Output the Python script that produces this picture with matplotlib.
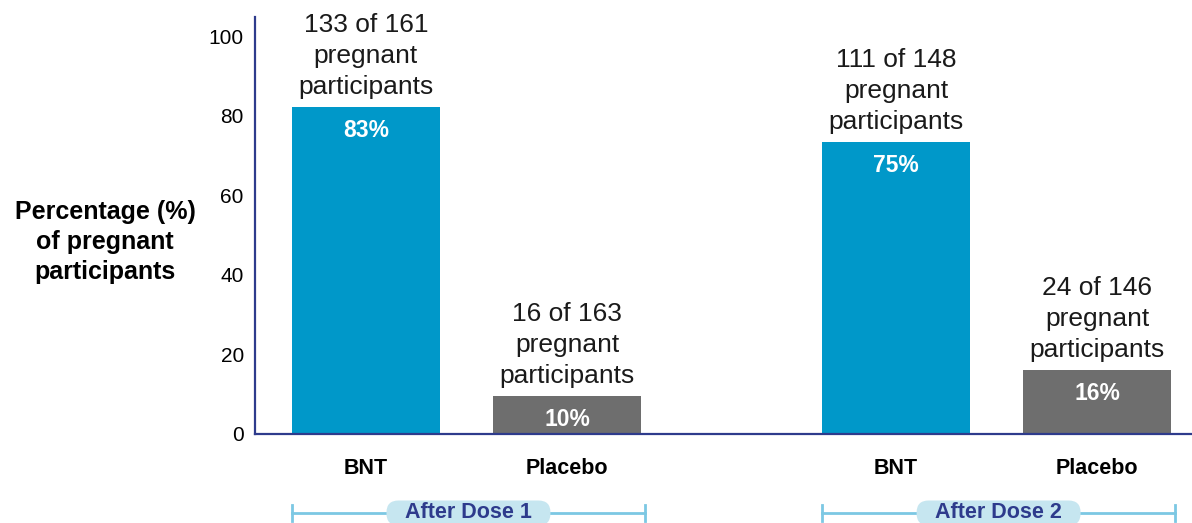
import matplotlib.pyplot as plt
from matplotlib.patches import FancyBboxPatch
from matplotlib.transforms import blended_transform_factory

plt.rcParams['font.family'] = ['Liberation Sans', 'DejaVu Sans']

# data
groups = ["After Dose 1", "After Dose 2"]
arms = ["BNT", "Placebo", "BNT", "Placebo"]
percent = [83, 10, 75, 16]
bar_height = [82.2, 9.6, 73.4, 16.1]
counts = ["133 of 161", "16 of 163", "111 of 148", "24 of 146"]
positions = [0, 1, 2.637, 3.637]
colors = ["#0098c9", "#6e6e6e", "#0098c9", "#6e6e6e"]

navy = "#2e3b8c"

fig = plt.figure(figsize=(11.92, 5.23), dpi=100)
ax = fig.add_axes([0.2139, 0.1702, 0.7861, 0.7973])

width = 0.736
bars = ax.bar(positions, bar_height, width=width, color=colors)

ax.set_xlim(-0.552, 4.109)
ax.set_ylim(0, 104.8)
ax.set_yticks([0, 20, 40, 60, 80, 100])
ax.set_xticks(positions)
ax.set_xticklabels(arms, fontsize=15.5, fontweight='bold')
ax.tick_params(axis='both', length=0)
ax.tick_params(axis='y', labelsize=15, pad=8)
ax.tick_params(axis='x', pad=17)

for side in ['top', 'right']:
    ax.spines[side].set_visible(False)
for side in ['left', 'bottom']:
    ax.spines[side].set_color(navy)
    ax.spines[side].set_linewidth(1.6)

ax.set_ylabel("Percentage (%)\nof pregnant\nparticipants", fontsize=18,
              fontweight='bold', rotation=0, ha='center', va='center',
              multialignment='center', linespacing=1.32)
ax.yaxis.set_label_coords(-0.160, 0.46)

for b, p, c in zip(bars, percent, counts):
    x = b.get_x() + b.get_width() / 2
    top = b.get_height()
    ax.annotate(f"{p}%", (x, top), xytext=(0, -24), textcoords='offset pixels',
                ha='center', va='center', color='white', fontsize=16.5,
                fontweight='bold')
    ax.annotate(f"{c}\npregnant\nparticipants", (x, top), xytext=(0, 8),
                textcoords='offset pixels', ha='center', va='bottom',
                fontsize=19, linespacing=1.36, color='#1a1a1a')

# dose brackets under the axis
trans = blended_transform_factory(ax.transData, fig.transFigure)
line_blue = "#7cc8e3"
y_br = 1 - 513 / 523
fig.canvas.draw()
for i, g in enumerate(groups):
    x0 = positions[2 * i] - width / 2
    x1 = positions[2 * i + 1] + width / 2 + 0.02
    ax.plot([x0, x1], [y_br, y_br], transform=trans, color=line_blue,
            lw=2, clip_on=False)
    for xe in (x0, x1):
        ax.plot([xe, xe], [y_br - 0.016, y_br + 0.016], transform=trans,
                color=line_blue, lw=2, clip_on=False)
    xm = (x0 + x1) / 2
    # pill box, drawn in inches so the corners stay round
    xm_in = ax.transData.transform((xm, 0))[0] / fig.dpi
    y_in = y_br * fig.get_figheight()
    bw, bh = 1.64, 0.25
    pill = FancyBboxPatch((xm_in - bw / 2, y_in - bh / 2), bw, bh,
                          boxstyle='round,pad=0,rounding_size=0.12',
                          transform=fig.dpi_scale_trans, fc='#c6e6f0',
                          ec='none', clip_on=False, zorder=3)
    fig.add_artist(pill)
    fig.text(xm_in / fig.get_figwidth(), y_br, g, ha='center', va='center',
             fontsize=15.5, fontweight='bold', color=navy, zorder=4)

fig.savefig("out.png", dpi=100)
